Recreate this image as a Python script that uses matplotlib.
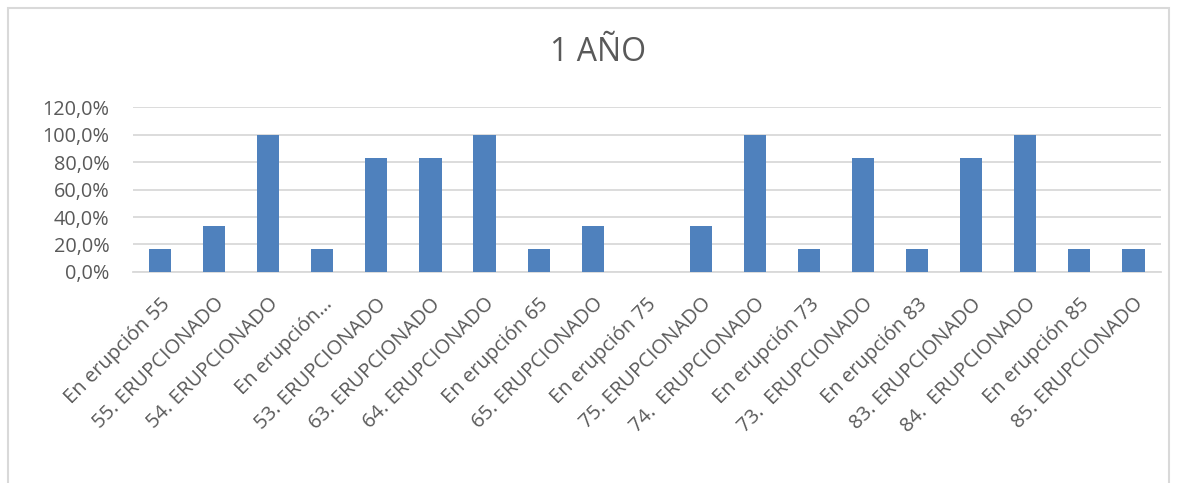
import matplotlib.pyplot as plt
from matplotlib.patches import Rectangle
from matplotlib.ticker import FuncFormatter

# Datos: porcentaje de piezas por estado al año
categorias = [
    "En erupción 55", "55. ERUPCIONADO", "54. ERUPCIONADO", "En erupción…",
    "53. ERUPCIONADO", "63. ERUPCIONADO", "64. ERUPCIONADO", "En erupción 65",
    "65. ERUPCIONADO", "En erupción 75", "75. ERUPCIONADO", "74.  ERUPCIONADO",
    "En erupción 73", "73.  ERUPCIONADO", "En erupción 83", "83. ERUPCIONADO",
    "84.  ERUPCIONADO", "En erupción 85", "85. ERUPCIONADO",
]
porcentajes = [16.7, 33.3, 100.0, 16.7, 83.3, 83.3, 100.0, 16.7, 33.3, 0.0,
               33.3, 100.0, 16.7, 83.3, 16.7, 83.3, 100.0, 16.7, 16.7]
ticks_y = [0, 20, 40, 60, 80, 100, 120]

gris = "#595959"
plt.rcParams["font.family"] = ["Open Sans", "DejaVu Sans"]

fig = plt.figure(figsize=(11.77, 4.83), dpi=100)
ax = fig.add_axes([0.113, 0.437, 0.873, 0.341])

x = range(len(categorias))
ax.bar(x, porcentajes, width=0.41, color="#4f81bd", zorder=3)

ax.set_ylim(0, 120)
ax.set_xlim(-0.5, len(categorias) - 0.5)
ax.set_yticks(ticks_y)
ax.yaxis.set_major_formatter(FuncFormatter(lambda v, p: f"{v:.1f}%".replace(".", ",")))
ax.grid(axis="y", color="#d9d9d9", linewidth=1.3, zorder=0)

ax.set_xticks(list(x))
ax.set_xticklabels(categorias, rotation=45, ha="right", rotation_mode="anchor",
                   fontsize=14.5, color=gris)
ax.tick_params(axis="y", labelsize=14.3, labelcolor=gris, length=0, pad=17)
ax.tick_params(axis="x", length=0, pad=16)
for s in ["top", "right", "left"]:
    ax.spines[s].set_visible(False)
ax.spines["bottom"].set_color("#d9d9d9")
ax.spines["bottom"].set_linewidth(1.3)

fig.text(0.508, 0.892, "1 AÑO", ha="center", va="center", fontsize=23, color=gris)

# marco del gráfico
fig.patches.append(Rectangle((0.007, -0.02), 0.986, 1.003, transform=fig.transFigure,
                             fill=False, edgecolor="#d9d9d9", linewidth=1.5))

fig.savefig("out.png", dpi=100)
